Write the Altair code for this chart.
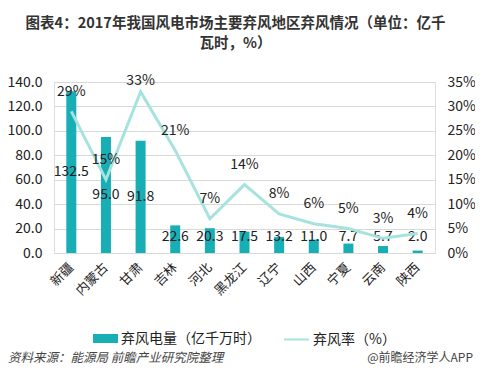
import altair as alt
import pandas as pd

regions = ["新疆", "内蒙古", "甘肃", "吉林", "河北", "黑龙江", "辽宁", "山西", "宁夏", "云南", "陕西"]
curtailed = [132.5, 95.0, 91.8, 22.6, 20.3, 17.5, 13.2, 11.0, 7.7, 5.7, 2.0]
rate = [29, 15, 33, 21, 7, 14, 8, 6, 5, 3, 4]
left_ticks = [0, 20, 40, 60, 80, 100, 120, 140]
right_ticks = [0, 5, 10, 15, 20, 25, 30, 35]

bar_name = "弃风电量（亿千万时）"
line_name = "弃风率（%）"
title_lines = ["图表4：2017年我国风电市场主要弃风地区弃风情况（单位：亿千", "瓦时，%）"]
source_left = "资料来源：能源局 前瞻产业研究院整理"
source_right = "@前瞻经济学人APP"

BAR = "#17AEB6"
LINE = "#A6E3DE"
FONT = "Noto Sans CJK SC"
TXT = "#222222"

df = pd.DataFrame({"region": regions, "curtailed": curtailed, "rate": rate,
                   "bar_series": [bar_name] * len(regions),
                   "line_series": [line_name] * len(regions)})

xenc = alt.X("region:N", sort=regions, title=None,
             scale=alt.Scale(paddingInner=0, paddingOuter=0),
             axis=alt.Axis(labelAngle=-45, labelAlign="right", labelBaseline="middle",
                           labelFontSize=13, labelColor=TXT, labelFont=FONT, labelPadding=12,
                           labelOverlap=False,
                           ticks=False, domainColor="#D9D9D9", domainWidth=1))

left_axis = alt.Axis(values=left_ticks, format=".1f", tickCount=8,
                     labelFontSize=14, labelColor=TXT, labelFont=FONT, labelPadding=12,
                     labelOverlap=False, labelFlush=False,
                     ticks=False, domain=False, gridColor="#D9D9D9", grid=True)
left_scale = alt.Scale(domain=[0, 140], nice=False)
right_axis = alt.Axis(orient="right", values=right_ticks, tickCount=8,
                      labelExpr="datum.value + '%'", labelFontSize=14, labelColor=TXT,
                      labelFont=FONT, labelPadding=12, labelOverlap=False, labelFlush=False,
                      ticks=False, domain=False, grid=False)
right_scale = alt.Scale(domain=[0, 35], nice=False)

base = alt.Chart(df)

bars = base.mark_bar(size=10).encode(
    x=xenc,
    y=alt.Y("curtailed:Q", title=None, scale=left_scale, axis=left_axis),
    fill=alt.Fill("bar_series:N",
                  scale=alt.Scale(domain=[bar_name], range=[BAR]),
                  legend=alt.Legend(title=None, orient="none", legendX=39, legendY=244,
                                    symbolType="M-1,-0.36H1V0.36H-1Z", symbolSize=625,
                                    symbolStrokeWidth=0, labelFontSize=14, labelColor=TXT,
                                    labelFont=FONT, labelOffset=3)),
)

bar_text = base.transform_calculate(
    label_y="max(datum.curtailed / 2, 13.5)",
    label_txt="format(datum.curtailed, '.1f')",
).mark_text(fontSize=14, font=FONT, color=TXT, baseline="middle").encode(
    x=xenc,
    y=alt.Y("label_y:Q", title=None, scale=left_scale, axis=left_axis),
    text="label_txt:N",
)

line = base.mark_line(strokeWidth=3).encode(
    x=xenc,
    y=alt.Y("rate:Q", title=None, scale=right_scale, axis=right_axis),
    stroke=alt.Stroke("line_series:N",
                      scale=alt.Scale(domain=[line_name], range=[LINE]),
                      legend=alt.Legend(title=None, orient="none", legendX=229, legendY=244,
                                        symbolType="stroke", symbolSize=625,
                                        symbolStrokeWidth=2, labelFontSize=14, labelColor=TXT,
                                        labelFont=FONT, labelOffset=3)),
)

line_text = base.transform_calculate(
    ly="min(datum.rate + 4, 35.2)",
    lt="datum.rate + '%'",
).mark_text(fontSize=14, font=FONT, color=TXT, baseline="middle").encode(
    x=xenc,
    y=alt.Y("ly:Q", title=None, scale=right_scale, axis=right_axis),
    text="lt:N",
)

notes = pd.DataFrame({"a": [source_left], "b": [source_right]})
note_left = alt.Chart(notes).mark_text(fontSize=12.5, font=FONT, fontStyle="italic",
                                       color="#444444", align="left", baseline="middle").encode(
    x=alt.value(-46), y=alt.value(276), text="a:N")
note_right = alt.Chart(notes).mark_text(fontSize=12, font=FONT, color="#444444",
                                        align="right", baseline="middle").encode(
    x=alt.value(419), y=alt.value(276), text="b:N")

left_layer = alt.layer(bars, bar_text)
right_layer = alt.layer(line, line_text)

chart = alt.layer(left_layer, right_layer, note_left, note_right).resolve_scale(
    y="independent", fill="independent", stroke="independent"
).properties(
    width=381, height=171,
    autosize=alt.AutoSizeParams(type="none"),
    padding={"left": 46, "top": 74, "right": 40, "bottom": 112},
    title=alt.TitleParams(text=title_lines, fontSize=14.5, fontWeight="bold", font=FONT,
                          color="#333333", anchor="middle", offset=23, lineHeight=20, dx=-9),
).configure_view(stroke=None).configure(background="white")

chart.save("out.html", embed_options={"renderer": "svg", "actions": False})
